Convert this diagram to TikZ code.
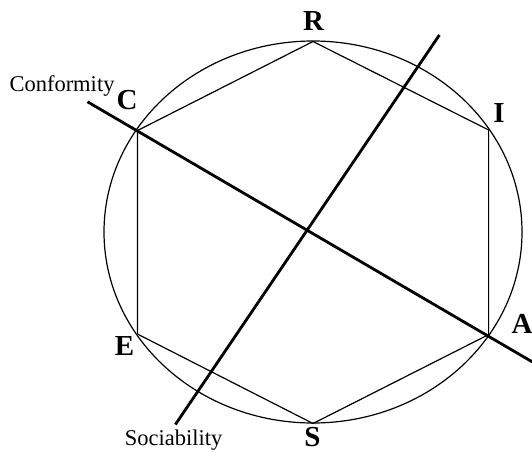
\documentclass[tikz,border=0pt]{standalone}
\usepackage{fontspec}
\setmainfont{Liberation Serif}
\usetikzlibrary{shapes.geometric}
\begin{document}
\begin{tikzpicture}[x=1pt,y=-1pt,
  thinline/.style={line width=1.2pt,black},
  axisline/.style={line width=2.8pt,black},
  vlabel/.style={font=\fontsize{29}{29}\selectfont\bfseries,inner sep=0pt},
  alabel/.style={font=\fontsize{22.5}{22.5}\selectfont,inner sep=0pt,anchor=base}]
\useasboundingbox (0,0) rectangle (532,452);
\clip (0,0) rectangle (532,452);
% ellipse
\node[draw,thinline,ellipse,minimum width=418pt,minimum height=382pt,inner sep=0pt] (ell) at (313,232) {};
% hexagon vertices
\coordinate (R) at (313,41.5);
\coordinate (I) at (488.6,130);
\coordinate (A) at (488.6,334.6);
\coordinate (S) at (313,423.5);
\coordinate (E) at (137.4,334);
\coordinate (C) at (137.4,130.6);
\draw[thinline,line join=miter] (R) -- (I) -- (A) -- (S) -- (E) -- (C) -- cycle;
% axes
\coordinate (conf1) at (87.5,101.8);
\coordinate (conf2) at (540,366.4);
\coordinate (soc1) at (439.4,35);
\coordinate (soc2) at (175.4,424.5);
\draw[axisline] (conf1) -- (conf2);
\draw[axisline] (soc1) -- (soc2);
% labels
\node[vlabel] (lR) at (313.5,21.5) {R};
\node[vlabel] (lC) at (127,100.5) {C};
\node[vlabel] (lI) at (499,113) {I};
\node[vlabel] (lA) at (522,323.5) {A};
\node[vlabel] (lE) at (124.5,346.5) {E};
\node[vlabel] (lS) at (312.5,437.5) {S};
\node[alabel] (conf) at (62,91.5) {Conformity};
\node[alabel] (soc) at (173.5,445.5) {Sociability};
\end{tikzpicture}
\end{document}
